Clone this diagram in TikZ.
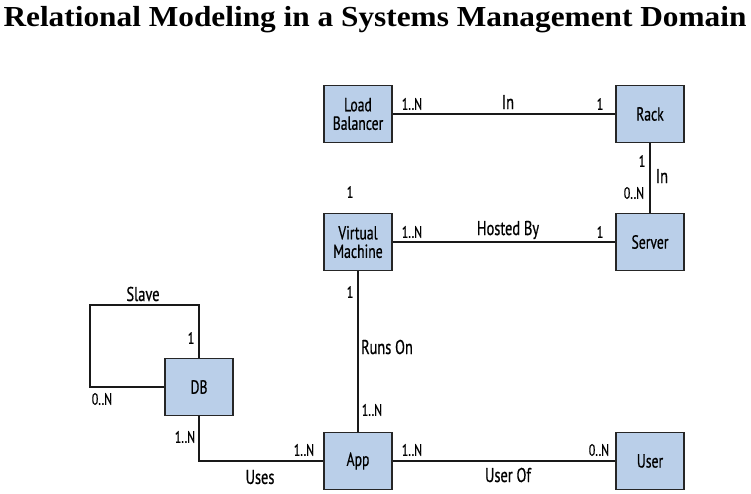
\documentclass[tikz,border=0pt]{standalone}
\usepackage{fontspec}
\setmainfont{PT Sans}[FakeStretch=0.72,FakeBold=0.6]
\newfontfamily\titlefont{Liberation Serif}
\definecolor{boxblue}{RGB}{186,207,233}
\begin{document}
\begin{tikzpicture}
  [x=1pt,y=-1pt,
   entity/.style={draw=black!85,line width=1.8pt,fill=boxblue,minimum width=68pt,minimum height=57pt,inner sep=1pt,align=center,font=\fontsize{19}{18.5}\selectfont},
   card/.style={inner sep=0pt,font=\fontsize{16.5}{17}\selectfont},
   rel/.style={inner sep=0pt,font=\fontsize{20}{20}\selectfont},
   link/.style={line width=1.8pt,black!90}]
\useasboundingbox (0,0) rectangle (751,493);
% Titulo
  \node[anchor=base,inner sep=0pt] (title) at (375,26) {\titlefont\bfseries\fontsize{29}{30}\selectfont\scalebox{1.08}[1]{Relational Modeling in a Systems Management Domain}};

% Entidades
  \node[entity] (lb)     at (358,114) {Load\\Balancer};
  \node[entity] (rack)   at (650,114) {Rack};
  \node[entity] (vm)     at (358,242) {Virtual\\Machine};
  \node[entity] (server) at (650,242) {Server};
  \node[entity] (db)     at (199,387) {DB};
  \node[entity] (app)    at (358,461) {App};
  \node[entity] (user)   at (650,461) {User};
  \coordinate (slave) at (90,305);

  % Relaciones
  \draw[link] (lb) -- (rack);
  \draw[link] (rack) -- (server);
  \draw[link] (vm) -- (server);
  \draw[link] (vm) -- (app);
  \draw[link] (app) -- (user);
  \draw[link] (db) |- (app);
  \draw[link] (db.west) -| (slave) -| (db.north);

  % Cardinalidades y nombres
  \node[card] (c1) at (412,104) {1..N};
  \node[rel]  (r1) at (508,102) {In};
  \node[card] (c2) at (600,104) {1};
  \node[card] (c3) at (642,161) {1};
  \node[rel]  (r2) at (662,176) {In};
  \node[card] (c4) at (634,193) {0..N};
  \node[card] (c5) at (350,192) {1};
  \node[card] (c6) at (412,232) {1..N};
  \node[rel]  (r3) at (508,230) {Hosted By};
  \node[card] (c7) at (600,232) {1};
  \node[card] (c8) at (350,292) {1};
  \node[rel]  (r4) at (387,347) {Runs On};
  \node[card] (c9) at (372,410) {1..N};
  \node[rel]  (r5) at (143,294) {Slave};
  \node[card] (c10) at (191,338) {1};
  \node[card] (c11) at (102,399) {0..N};
  \node[card] (c12) at (185,437) {1..N};
  \node[card] (c13) at (304,450) {1..N};
  \node[rel]  (r6) at (260,477) {Uses};
  \node[card] (c14) at (412,450) {1..N};
  \node[card] (c15) at (599,450) {0..N};
  \node[rel]  (r7) at (508,475) {User Of};
\end{tikzpicture}
\end{document}
